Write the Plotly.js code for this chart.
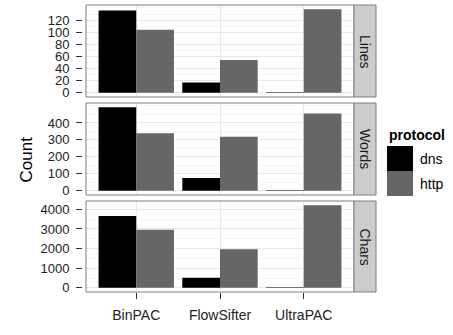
<!DOCTYPE html>
<html>
<head>
<meta charset="utf-8">
<script src="https://cdn.plot.ly/plotly-3.0.1.min.js"></script>
<style>html,body{margin:0;padding:0;background:#fff;}#chart{width:453px;height:335px;}</style>
</head>
<body>
<div id="chart"></div>
<script>
// ---- data ----
const categories = ["BinPAC", "FlowSifter", "UltraPAC"];
const facets = ["Lines", "Words", "Chars"];
const protocols = ["dns", "http"];
const linesDns = [136, 17, 1];
const linesHttp = [104, 54, 138];
const wordsDns = [493, 75, 3];
const wordsHttp = [340, 318, 456];
const charsDns = [3660, 515, 30];
const charsHttp = [2965, 1965, 4215];
const dticks = [20, 100, 1000];

const series = [[linesDns, linesHttp], [wordsDns, wordsHttp], [charsDns, charsHttp]];
const colors = {dns: "#000000", http: "#666666"};

const W = 453, H = 335;
const px = v => v / W;
const py = v => 1 - v / H;
const xDom = [px(86), px(354)];
const panels = [[5, 97], [103, 195], [201, 292]];
const FONT = "Liberation Sans, Arial, Helvetica, sans-serif";

const traces = [];
const layout = {
  width: W, height: H,
  margin: {l: 0, r: 0, t: 0, b: 0},
  paper_bgcolor: "#ffffff", plot_bgcolor: "#ffffff",
  barmode: "group", bargap: 0.1, bargroupgap: 0,
  showlegend: false,
  font: {family: FONT, size: 14, color: "#222"},
  shapes: [], annotations: []
};

facets.forEach((f, i) => {
  const n = i + 1;
  const xa = n === 1 ? "x" : "x" + n;
  const ya = n === 1 ? "y" : "y" + n;
  const xk = n === 1 ? "xaxis" : "xaxis" + n;
  const yk = n === 1 ? "yaxis" : "yaxis" + n;
  protocols.forEach((p, j) => {
    traces.push({
      type: "bar", x: categories, y: series[i][j], name: p,
      xaxis: xa, yaxis: ya, marker: {color: colors[p], line: {width: 0}},
      hoverinfo: "skip"
    });
  });
  const mx = Math.max(...series[i][0], ...series[i][1]);
  const tv = [];
  for (let v = 0; v <= mx; v += dticks[i]) tv.push(v);
  const yd = [py(panels[i][1]), py(panels[i][0])];
  layout[xk] = {
    domain: xDom, anchor: ya, type: "category", range: [-0.6, 2.6],
    showgrid: true, gridcolor: "#e8e8e8", gridwidth: 1,
    zeroline: false, showline: false,
    ticks: n === 3 ? "outside" : "", ticklen: 6, tickcolor: "#333", tickwidth: 1,
    showticklabels: n === 3, tickfont: {size: 14, color: "#222"},
    ticklabelstandoff: 4,
    fixedrange: true
  };
  if (n !== 1) layout[xk].matches = "x";
  layout[yk] = {
    domain: yd, anchor: "free", position: px(82),
    range: [-0.05 * mx, 1.05 * mx],
    tickmode: "array", tickvals: tv,
    showgrid: true, gridcolor: "#e8e8e8", gridwidth: 1,
    minor: {showgrid: true, gridcolor: "#f5f5f5", gridwidth: 1, dtick: dticks[i] / 2, tick0: 0},
    zeroline: false, showline: false,
    ticks: "outside", ticklen: 6, tickcolor: "#333", tickwidth: 1,
    tickfont: {size: 13, color: "#222"}, ticklabelstandoff: 4,
    fixedrange: true
  };
  // panel border
  layout.shapes.push({type: "rect", xref: "paper", yref: "paper",
    x0: xDom[0], x1: xDom[1], y0: yd[0], y1: yd[1],
    line: {color: "#7f7f7f", width: 1}, fillcolor: "rgba(0,0,0,0)", layer: "above"});
  // strip
  layout.shapes.push({type: "rect", xref: "paper", yref: "paper",
    x0: px(354), x1: px(376), y0: yd[0], y1: yd[1],
    line: {color: "#7f7f7f", width: 1}, fillcolor: "#cccccc", layer: "above"});
  layout.annotations.push({xref: "paper", yref: "paper",
    x: px(365), y: (yd[0] + yd[1]) / 2, text: f, textangle: 90, showarrow: false,
    font: {size: 14, color: "#1a1a1a"}, xanchor: "center", yanchor: "middle"});
});

// y title
layout.annotations.push({xref: "paper", yref: "paper", x: px(25.5), y: py(160),
  text: "Count", textangle: -90, showarrow: false, font: {size: 17, color: "#000"},
  xanchor: "center", yanchor: "middle"});

// legend (drawn manually to mimic ggplot keys)
layout.annotations.push({xref: "paper", yref: "paper", x: px(387), y: py(135),
  text: "<b>protocol</b>", showarrow: false, font: {size: 14, color: "#000"},
  xanchor: "left", yanchor: "middle"});
protocols.forEach((p, j) => {
  const top = 146 + j * 25, bot = top + 25;
  layout.shapes.push({type: "rect", xref: "paper", yref: "paper",
    x0: px(387), x1: px(413), y0: py(bot), y1: py(top),
    line: {width: 0}, fillcolor: colors[p]});
  layout.annotations.push({xref: "paper", yref: "paper", x: px(418), y: py((top + bot) / 2),
    text: p, showarrow: false, font: {size: 14, color: "#000"},
    xanchor: "left", yanchor: "middle"});
});

Plotly.newPlot("chart", traces, layout, {staticPlot: true, displayModeBar: false});
</script>
</body>
</html>
